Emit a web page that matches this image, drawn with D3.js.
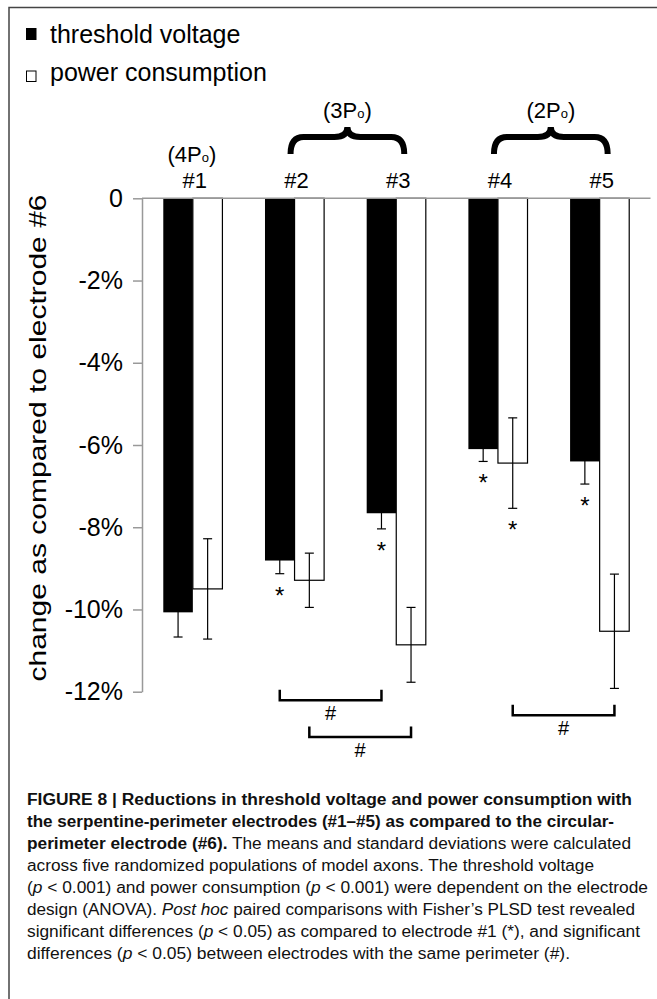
<!DOCTYPE html>
<html>
<head>
<meta charset="utf-8">
<script src="https://cdn.jsdelivr.net/npm/d3@7"></script>
<style>
  body { margin: 0; background: #fff; }
  svg { display: block; font-family: "Liberation Sans", Arial, sans-serif; }
</style>
</head>
<body>
<div id="chart"></div>
<script>
// DATA (percent change vs electrode #6)
const electrodes = ["#1", "#2", "#3", "#4", "#5"];
const seriesKeys = ["tv", "pc"];
const seriesNames = ["threshold voltage", "power consumption"];
const thresholdMean = [-10.07, -8.81, -7.66, -6.10, -6.40];
const thresholdSd = [0.60, 0.32, 0.38, 0.30, 0.55];
const powerMean = [-9.50, -9.29, -10.86, -6.44, -10.53];
const powerSd = [1.22, 0.66, 0.91, 1.10, 1.39];
const thresholdStar = [false, true, true, true, true];
const powerStar = [false, false, false, true, false];
const yTicks = [0, -2, -4, -6, -8, -10, -12];
const groupLabels = ["4", "3", "2"];
const groupMembers = [["#1"], ["#2", "#3"], ["#4", "#5"]];
const sigFrom = [["#2", "tv"], ["#2", "pc"], ["#4", "pc"]];
const sigTo = [["#3", "tv"], ["#3", "pc"], ["#5", "pc"]];
const sigLevel = [-12.21, -13.1, -12.57];

const caption = [
  [["FIGURE 8 | Reductions in threshold voltage and power consumption with", "b"]],
  [["the serpentine-perimeter electrodes (#1–#5) as compared to the circular-", "b"]],
  [["perimeter electrode (#6).", "b"], [" The means and standard deviations were calculated", ""]],
  [["across five randomized populations of model axons. The threshold voltage", ""]],
  [["(", ""], ["p", "i"], [" < 0.001) and power consumption (", ""], ["p", "i"], [" < 0.001) were dependent on the electrode", ""]],
  [["design (ANOVA). ", ""], ["Post hoc", "i"], [" paired comparisons with Fisher’s PLSD test revealed", ""]],
  [["significant differences (", ""], ["p", "i"], [" < 0.05) as compared to electrode #1 (*), and significant", ""]],
  [["differences (", ""], ["p", "i"], [" < 0.05) between electrodes with the same perimeter (#).", ""]]
];
const captionWidths = [605, 587, 604, 567, 621, 608, 613, 543];

const W = 657, H = 999;

const svg = d3.select("#chart")
  .append("svg")
  .attr("width", W)
  .attr("height", H);

svg.append("rect").attr("width", W).attr("height", H).attr("fill", "#fff");

// FRAME (top + left only)
svg.append("path")
  .attr("d", `M9,${H} V7.5 H${W}`)
  .attr("fill", "none")
  .attr("stroke", "#444")
  .attr("stroke-width", 1.5);

// SCALES
const x0 = d3.scaleBand().domain(electrodes).range([142, 650.5]).padding(0);
const x1 = d3.scaleBand().domain(seriesKeys).range([0, x0.bandwidth()])
  .paddingInner(0).paddingOuter(0.72);
const y = d3.scaleLinear().domain([0, -12]).range([198.3, 691.7]);

const bars = [];
electrodes.forEach((e, i) => {
  bars.push({ e: e, s: "tv", mean: thresholdMean[i], sd: thresholdSd[i], star: thresholdStar[i] });
  bars.push({ e: e, s: "pc", mean: powerMean[i], sd: powerSd[i], star: powerStar[i] });
});
const cx = (e, s) => x0(e) + x1(s) + x1.bandwidth() / 2;

// BARS
svg.append("g")
  .selectAll("rect")
  .data(bars)
  .enter()
  .append("rect")
  .attr("x", (d) => x0(d.e) + x1(d.s))
  .attr("y", y(0))
  .attr("width", x1.bandwidth())
  .attr("height", (d) => y(d.mean) - y(0))
  .attr("fill", (d) => (d.s === "tv" ? "#000" : "#fff"))
  .attr("stroke", (d) => (d.s === "tv" ? "none" : "#000"))
  .attr("stroke-width", 1.2);

// ERROR BARS
const err = svg.append("g").attr("stroke", "#000").attr("stroke-width", 1.2);
err.selectAll(".stem")
  .data(bars)
  .enter()
  .append("line")
  .attr("x1", (d) => cx(d.e, d.s))
  .attr("x2", (d) => cx(d.e, d.s))
  .attr("y1", (d) => y(d.mean + d.sd))
  .attr("y2", (d) => y(d.mean - d.sd));
[1, -1].forEach((sign) => {
  err.selectAll(".cap" + sign)
    .data(bars)
    .enter()
    .append("line")
    .attr("x1", (d) => cx(d.e, d.s) - 4.5)
    .attr("x2", (d) => cx(d.e, d.s) + 4.5)
    .attr("y1", (d) => y(d.mean + sign * d.sd))
    .attr("y2", (d) => y(d.mean + sign * d.sd));
});

// STARS
svg.append("g")
  .selectAll("text")
  .data(bars.filter((d) => d.star))
  .enter()
  .append("text")
  .attr("x", (d) => cx(d.e, d.s))
  .attr("y", (d) => y(d.mean - d.sd) + 30)
  .attr("text-anchor", "middle")
  .style("font-size", "24px")
  .text("*");

// Y AXIS
const yAxis = svg.append("g")
  .attr("transform", "translate(142,0)")
  .call(
    d3.axisLeft(y)
      .tickValues(yTicks)
      .tickSize(9)
      .tickSizeOuter(0)
      .tickPadding(10)
      .tickFormat((d) => (d === 0 ? "0" : d + "%"))
  );
yAxis.select(".domain").attr("stroke", "#999").attr("stroke-width", 1.5);
yAxis.selectAll(".tick line").attr("stroke", "#999").attr("stroke-width", 1.5);
yAxis.selectAll(".tick text")
  .attr("fill", "#000")
  .style("font-size", "25px")
  .style("font-family", '"Liberation Sans", Arial, sans-serif');

// ZERO LINE
svg.append("line")
  .attr("x1", x0.range()[0])
  .attr("x2", x0.range()[1])
  .attr("y1", y(0))
  .attr("y2", y(0))
  .attr("stroke", "#999")
  .attr("stroke-width", 1.5);

// Y LABEL
svg.append("text")
  .attr("transform", `translate(46,${(y(0) + y(-12)) / 2 - 7}) rotate(-90)`)
  .attr("text-anchor", "middle")
  .attr("textLength", 487)
  .attr("lengthAdjust", "spacingAndGlyphs")
  .style("font-size", "24px")
  .text("change as compared to electrode #6");

// CATEGORY LABELS
const xAxis = svg.append("g")
  .attr("transform", `translate(2,${y(0)})`)
  .call(d3.axisTop(x0).tickSize(0).tickPadding(10));
xAxis.select(".domain").remove();
xAxis.selectAll(".tick text")
  .attr("fill", "#000")
  .style("font-size", "22px")
  .style("font-family", '"Liberation Sans", Arial, sans-serif');

// GROUP LABELS + BRACES
groupMembers.forEach((m, i) => {
  const c1 = x0(m[0]) + x0.bandwidth() / 2;
  const c2 = x0(m[m.length - 1]) + x0.bandwidth() / 2;
  const multi = m.length > 1;
  const left = c1 - 4, right = c2 + 8;
  const mid = multi ? (left + right) / 2 : c1 - 1;
  const t = svg.append("text")
    .attr("x", mid)
    .attr("y", multi ? 118.3 : 161.7)
    .attr("text-anchor", "middle")
    .style("font-size", "22px");
  t.append("tspan").text("(" + groupLabels[i] + "P");
  t.append("tspan").style("font-size", "13px").text("o");
  t.append("tspan").text(")");

  if (multi) {
    const yb = 154, ym = 137, yt = 127, r = 13;
    svg.append("path")
      .attr("d",
        `M${left},${yb} Q${left},${ym} ${left + r},${ym} L${mid - r},${ym} Q${mid},${ym} ${mid},${yt} ` +
        `Q${mid},${ym} ${mid + r},${ym} L${right - r},${ym} Q${right},${ym} ${right},${yb}`)
      .attr("fill", "none")
      .attr("stroke", "#000")
      .attr("stroke-width", 6);
  }
});

// SIGNIFICANCE BRACKETS (#)
sigLevel.forEach((lv, i) => {
  const xa = cx(sigFrom[i][0], sigFrom[i][1]);
  const xb = cx(sigTo[i][0], sigTo[i][1]);
  const yl = y(lv);
  svg.append("path")
    .attr("d", `M${xa},${yl - 10.5} V${yl} H${xb} V${yl - 10.5}`)
    .attr("fill", "none")
    .attr("stroke", "#000")
    .attr("stroke-width", 2.5);
  svg.append("text")
    .attr("x", (xa + xb) / 2)
    .attr("y", yl + 20)
    .attr("text-anchor", "middle")
    .style("font-size", "20px")
    .text("#");
});

// LEGEND
svg.append("rect")
  .attr("x", 26).attr("y", 28).attr("width", 10.5).attr("height", 12)
  .attr("fill", "#000");
svg.append("rect")
  .attr("x", 26.5).attr("y", 71).attr("width", 9.5).attr("height", 10.5)
  .attr("fill", "#fff").attr("stroke", "#000").attr("stroke-width", 1);
seriesNames.forEach((n, i) => {
  svg.append("text")
    .attr("x", 50)
    .attr("y", [42.7, 81][i])
    .style("font-size", "25px")
    .text(n);
});

// CAPTION
caption.forEach((line, i) => {
  const t = svg.append("text")
    .attr("x", 27)
    .attr("y", 805 + 22 * i)
    .attr("textLength", captionWidths[i])
    .attr("lengthAdjust", "spacingAndGlyphs")
    .style("font-size", "16px")
    .attr("fill", "#111");
  line.forEach((seg) => {
    t.append("tspan")
      .style("font-weight", seg[1] === "b" ? "bold" : "normal")
      .style("font-style", seg[1] === "i" ? "italic" : "normal")
      .text(seg[0]);
  });
});
</script>
</body>
</html>
